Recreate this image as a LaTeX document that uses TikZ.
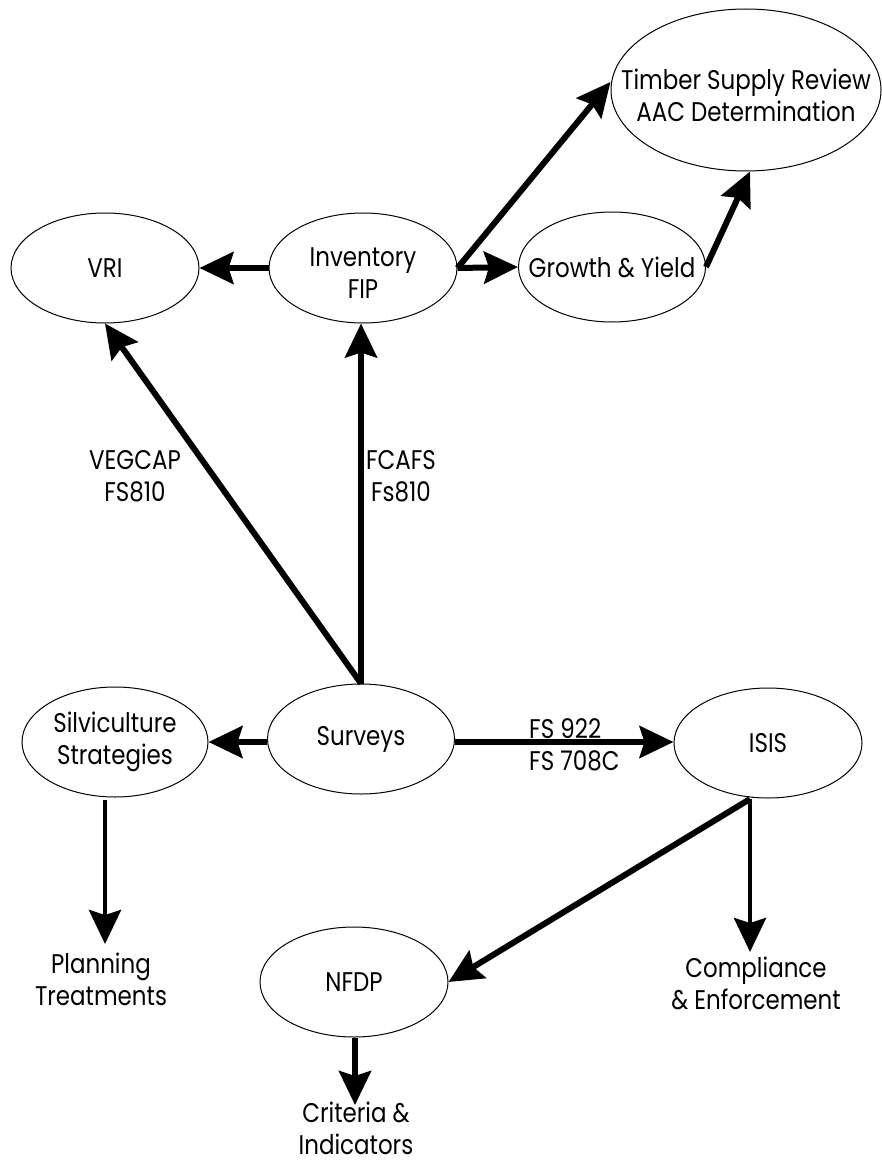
\documentclass[tikz,border=0pt]{standalone}
\usepackage{fontspec}
\setmainfont[FakeStretch=0.85]{Poppins}
\usetikzlibrary{shapes.geometric,arrows.meta}
\begin{document}
\begin{tikzpicture}[x=1pt,y=-1pt,
  txt/.style={font=\fontsize{27}{32}\selectfont},
  lbl/.style={align=center,inner sep=0pt,txt},
  bubble/.style={ellipse,draw,line width=1pt,inner sep=0pt,
    minimum width=188pt,minimum height=110pt},
  conn/.style={line width=6pt,-{Stealth[length=34pt,width=32pt,inset=5pt]}},
  thinconn/.style={conn,line width=4.5pt}]
\useasboundingbox (0,0) rectangle (881,1164);

% ellipses
\node[bubble,minimum width=270pt,minimum height=162pt,
  label={[lbl,yshift=-5pt]center:Timber Supply Review\\AAC Determination}] (tsr) at (746,90) {};
\node[bubble,label={[lbl]center:VRI}] (vri) at (105,268) {};
\node[bubble,label={[lbl,yshift=-5pt]center:Inventory\\FIP}] (inv) at (363,268) {};
\node[bubble,minimum width=187pt,label={[lbl]center:Growth \& Yield}] (gy) at (612,267) {};
\node[bubble,minimum width=186pt,label={[lbl]center:Silviculture\\Strategies}] (silvi) at (115,742) {};
\node[bubble,minimum width=187pt,label={[lbl]center:Surveys}] (surv) at (361,739) {};
\node[bubble,label={[lbl]center:ISIS}] (isis) at (768,743) {};
\node[bubble,label={[lbl]center:NFDP}] (nfdp) at (354,982) {};

% plain labels
\node[lbl] (plan) at (101,979) {Planning\\Treatments};
\node[lbl] (comp) at (756,983) {Compliance\\\& Enforcement};
\node[lbl] (crit) at (356,1128) {Criteria \&\\Indicators};

% connector labels
\node[lbl] (vegcap) at (135,476) {VEGCAP\\FS810};
\node[lbl] (fcafs) at (401,476) {FCAFS\\Fs810};
\node[lbl,align=left,anchor=west] (fs) at (529,745) {FS 922\\FS 708C};

% helper coordinates
\coordinate (silvifoot) at (105,800);
\coordinate (planTip) at (105,944);
\coordinate (isisfoot) at (750,799);
\coordinate (compTip) at (750,952);
\coordinate (critTip) at (355,1105);
\coordinate (mid) at (0,742);

% connectors
\draw[conn] (inv.west) -- (vri.east);
\draw[conn] (inv.east) -- (gy.west);
\draw[conn] (inv.east) -- ([yshift=8pt]tsr.west);
\draw[conn] (gy.east) -- ([xshift=4pt]tsr.south);
\draw[conn] (surv.north) -- (vri.south);
\draw[conn] (surv.north) -- (surv.north |- inv.south);
\draw[conn] (surv.west |- mid) -- (silvi.east |- mid);
\draw[conn] (surv.east |- mid) -- (isis.west |- mid);
\draw[thinconn] (silvifoot) -- (planTip);
\draw[thinconn] (isisfoot) -- (compTip);
\draw[conn] (isisfoot) -- (nfdp.east);
\draw[conn] ([xshift=1pt]nfdp.south) -- (critTip);
\end{tikzpicture}
\end{document}
